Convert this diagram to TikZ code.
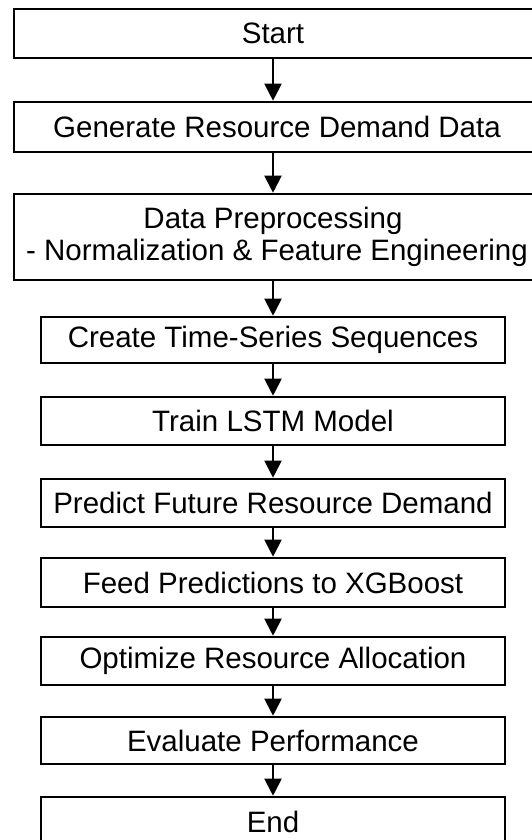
\documentclass[tikz,border=0pt]{standalone}
\usepackage{fontspec}
\setmainfont{Liberation Sans}
\usetikzlibrary{arrows.meta}
\begin{document}
\begin{tikzpicture}[x=1pt,y=-1pt,
  >={Triangle[length=17pt,width=17pt]},
  flow/.style={line width=2pt},
  stepbox/.style={draw,line width=2.6pt,inner sep=0pt,minimum width=464pt,minimum height=48pt,align=center,font=\fontsize{29.5}{32}\selectfont},
  widebox/.style={stepbox,minimum width=526pt}]
\useasboundingbox (0,0) rectangle (532,840);
\clip (0,0) rectangle (532,840);
\node[widebox,minimum height=49pt] (start) at (277,33.5) {\makebox[0pt]{\hspace*{-8pt}Start}};
\node[widebox,minimum height=50pt] (gen) at (277,127) {\makebox[0pt]{Generate Resource Demand Data}};
\node[widebox,minimum height=86pt] (prep) at (277,237) {\makebox[0pt]{\hspace*{-8pt}Data Preprocessing}\\\makebox[0pt]{- Normalization \& Feature Engineering}};
\node[stepbox,minimum height=46pt] (seq) at (273,340) {Create Time-Series Sequences};
\node[stepbox] (train) at (273,421) {Train LSTM Model};
\node[stepbox] (pred) at (273,503) {Predict Future Resource Demand};
\node[stepbox,minimum height=49pt] (feed) at (273,582.5) {Feed Predictions to XGBoost};
\node[stepbox] (opt) at (273,661) {Optimize Resource Allocation};
\node[stepbox,minimum height=47pt] (eval) at (273,740.5) {Evaluate Performance};
\node[stepbox,minimum height=48pt,text depth=0pt] (end) at (273,821) {\raisebox{-2pt}{End}};

\draw[flow,->] (start.south -| seq.north) -- (gen.north -| seq.north);
\draw[flow,->] (gen.south -| seq.north) -- (prep.north -| seq.north);
\draw[flow,->] (prep.south -| seq.north) -- (seq);
\draw[flow,->] (seq) -- (train);
\draw[flow,->] (train) -- (pred);
\draw[flow,->] (pred) -- (feed);
\draw[flow,->] (feed) -- (opt);
\draw[flow,->] (opt) -- (eval);
\draw[flow,->] (eval) -- (end);
\end{tikzpicture}
\end{document}
